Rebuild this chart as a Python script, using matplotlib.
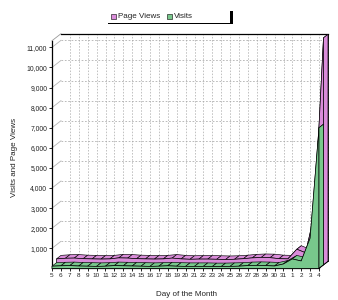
import numpy as np
import matplotlib
matplotlib.use("Agg")
import matplotlib.pyplot as plt
from matplotlib.patches import Polygon, Rectangle
from matplotlib.lines import Line2D

# ---------------- data ----------------
days = ["5", "6", "7", "8", "9", "10", "11", "12", "13", "14", "15", "16", "17",
        "18", "19", "20", "21", "22", "23", "24", "25", "26", "27", "28", "29",
        "30", "31", "1", "2", "3", "4"]
page_views = [300, 330, 340, 310, 300, 290, 300, 350, 340, 310, 300, 290, 300,
              340, 300, 280, 290, 290, 280, 270, 280, 310, 350, 370, 360,
              310, 300, 780, 600, 2600, 11300]
visits = [110, 130, 140, 120, 110, 100, 110, 140, 130, 120, 110, 100, 110,
          130, 110, 100, 100, 100, 90, 90, 100, 110, 140, 150, 140,
          120, 220, 470, 370, 1500, 7000]
series_names = ["Page Views", "Visits"]
y_ticks = list(range(1000, 12000, 1000))
y_tick_labels = [f"{v:,}" for v in y_ticks]
y_max = 11330

PINK = "#DA8CDA"
GREEN = "#78C88C"
GRID = "#a8a8a8"
TXT = "#222222"
FONT = "Liberation Sans"

W, H = 338, 300
fig = plt.figure(figsize=(W / 100, H / 100), dpi=100)
fig.patch.set_facecolor("white")

L, R, T, B = 52, 319, 40.7, 268.4
ax = fig.add_axes([L / W, (H - B) / H, (R - L) / W, (B - T) / H])
ax.set_facecolor("none")

x = np.arange(len(days))
ax.set_xlim(0, len(days) - 1)
ax.set_ylim(0, y_max)

for s in ["top", "right"]:
    ax.spines[s].set_visible(False)
for s in ["left", "bottom"]:
    ax.spines[s].set_color("black")
    ax.spines[s].set_linewidth(0.9)
    ax.spines[s].set_zorder(1)

ax.set_xticks(x)
ax.set_xticklabels(days, fontsize=4.6, family=FONT, color=TXT)
ax.set_yticks(y_ticks)
ax.set_yticklabels(y_tick_labels, fontsize=4.9, family=FONT, color=TXT)
ax.tick_params(length=2, width=0.6, pad=1.5, color="black")

ax.set_xlabel("Day of the Month", fontsize=5.8, family=FONT, color=TXT)
ax.set_ylabel("Visits and Page Views", fontsize=5.8, family=FONT, color=TXT)
ax.xaxis.set_label_coords((186 - L) / (R - L), -(295 - B) / (B - T))
ax.yaxis.set_label_coords(-(L - 14) / (R - L), (B - 157) / (B - T))
ax.xaxis.label.set_va("center")
ax.yaxis.label.set_va("center")

# depth offset in data units (from pixel offset)
p0 = ax.transData.transform((0, 0))
DX, DY = ax.transData.inverted().transform(p0 + np.array([9.0, 7.0]))
xn = x[-1]

# ---------------- back wall ----------------
for v in y_ticks:
    ax.add_line(Line2D([DX, xn + DX], [v + DY, v + DY], color=GRID, lw=0.55,
                       ls=(0, (2.2, 2.2)), clip_on=False, zorder=0.5))
    ax.add_line(Line2D([0, DX], [v, v + DY], color="#b5b5b5", lw=0.6,
                       clip_on=False, zorder=0.5))
for xi in x[1:]:
    ax.add_line(Line2D([xi + DX, xi + DX], [DY, y_max + DY], color=GRID, lw=0.5,
                       ls=(0, (2.2, 2.2)), clip_on=False, zorder=0.5))
ax.add_line(Line2D([DX, xn + DX], [y_max + DY, y_max + DY], color="black", lw=0.9,
                   clip_on=False, zorder=0.6))
ax.add_line(Line2D([0, DX], [y_max, y_max + DY], color="#999999", lw=0.6,
                   clip_on=False, zorder=0.6))
ax.add_line(Line2D([xn + DX, xn + DX], [DY, y_max + DY], color="black", lw=0.6,
                   clip_on=False, zorder=0.6))


def draw_series(vals, color, d0, d1, z):
    fx, fy = d0 * DX, d0 * DY
    bx, by = d1 * DX, d1 * DY
    for i in range(len(vals) - 1):
        poly = [(x[i] + fx, vals[i] + fy), (x[i + 1] + fx, vals[i + 1] + fy),
                (x[i + 1] + bx, vals[i + 1] + by), (x[i] + bx, vals[i] + by)]
        ax.add_patch(Polygon(poly, closed=True, fc=color, ec="black", lw=0.45,
                             clip_on=False, zorder=z))
    front = [(x[0] + fx, fy)] + [(xi + fx, vi + fy) for xi, vi in zip(x, vals)] + [(xn + fx, fy)]
    ax.add_patch(Polygon(front, closed=True, fc=color, ec="black", lw=0.5,
                         clip_on=False, zorder=z + 0.1))
    side = [(xn + fx, fy), (xn + fx, vals[-1] + fy), (xn + bx, vals[-1] + by), (xn + bx, by)]
    ax.add_patch(Polygon(side, closed=True, fc=color, ec="black", lw=0.5,
                         clip_on=False, zorder=z + 0.1))


draw_series(page_views, PINK, 0.5, 1.0, 2)
draw_series(visits, GREEN, 0.0, 0.5, 3)

# bottom-right floor edge
ax.add_line(Line2D([xn, xn + DX], [0, DY], color="black", lw=0.6, clip_on=False, zorder=4))


# ---------------- legend ----------------
def fx_(px):
    return px / W


def fy_(py):
    return 1 - py / H


fig.patches.append(Rectangle((fx_(108), fy_(23.8)), (233 - 108) / W, (23.8 - 11) / H,
                             transform=fig.transFigure, fc="black", ec="none", zorder=5))
fig.patches.append(Rectangle((fx_(107), fy_(22.6)), (230 - 107) / W, (22.6 - 9.5) / H,
                             transform=fig.transFigure, fc="white", ec="none", zorder=6))
for (nm, col, sx) in [(series_names[0], PINK, 111), (series_names[1], GREEN, 167)]:
    fig.patches.append(Rectangle((fx_(sx), fy_(19)), 5 / W, 5 / H, transform=fig.transFigure,
                                 fc=col, ec="black", lw=0.4, zorder=7))
    fig.text(fx_(sx + 7), fy_(16.3), nm, fontsize=5.8, family=FONT, color=TXT,
             ha="left", va="center", zorder=8)

fig.savefig("out.png", dpi=100, facecolor="white")
